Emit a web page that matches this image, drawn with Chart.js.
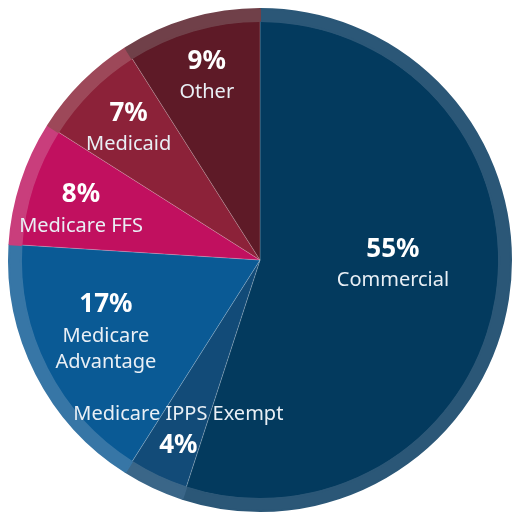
<!DOCTYPE html>
<html>
<head>
<meta charset="utf-8">
<script src="https://cdn.jsdelivr.net/npm/chart.js@4/dist/chart.umd.min.js"></script>
<style>
  html, body { margin: 0; padding: 0; background: #ffffff; }
  #wrap { width: 515px; height: 518px; }
</style>
</head>
<body>
<div id="wrap"><canvas id="payer"></canvas></div>
<script>
// payer mix, clockwise from 12 o'clock
const categories = ['Commercial', 'Medicare IPPS Exempt', 'Medicare Advantage', 'Medicare FFS', 'Medicaid', 'Other']
const shares = [55, 4, 17, 8, 7, 9]
const nameLines = [['Commercial'], ['Medicare IPPS Exempt'], ['Medicare', 'Advantage'], ['Medicare FFS'], ['Medicaid'], ['Other']]

const coreColors = ['#033a5e', '#124b78', '#0a5a95', '#c1105f', '#8c2239', '#5e1a27']
const rimColors = ['#2b5777', '#3a6688', '#3776a6', '#c93e7c', '#9d4859', '#704049']

// where each label block sits: fraction of radius, angle shift (deg) from slice middle, percent under name?
const labelPos = [
    { r: 0.53, shift: -7, pctBelow: false },
    { r: 0.75, shift: 0.5, pctBelow: true },
    { r: 0.68, shift: 1.5, pctBelow: false },
    { r: 0.74, shift: -2.5, pctBelow: false },
    { r: 0.74, shift: 0, pctBelow: false },
    { r: 0.76, shift: 0, pctBelow: false },
]

const FONT = '"Noto Sans", "Open Sans", sans-serif'

const sliceLabels = {
    id: 'sliceLabels',
    afterDatasetsDraw(chart) {
        const ctx = chart.ctx
        const arcs = chart.getDatasetMeta(1).data
        const R = chart.getDatasetMeta(0).data[0].outerRadius
        ctx.save()
        ctx.textAlign = 'center'
        ctx.textBaseline = 'middle'
        arcs.forEach((arc, i) => {
            const p = labelPos[i]
            const mid = (arc.startAngle + arc.endAngle) / 2 + p.shift * Math.PI / 180
            const cx = arc.x + Math.cos(mid) * R * p.r
            const cy = arc.y + Math.sin(mid) * R * p.r
            const pct = { text: shares[i] + '%', font: 'bold 26px ' + FONT, color: '#ffffff' }
            const names = nameLines[i].map(t => ({ text: t, font: '20px ' + FONT, color: '#e9eff5' }))
            const lines = p.pctBelow ? names.concat([pct]) : [pct].concat(names)
            // gaps between line centres
            const gaps = []
            for (let k = 1; k < lines.length; k++) {
                const mixed = (lines[k].font !== lines[k - 1].font)
                gaps.push(mixed ? 31 : 26)
            }
            const total = gaps.reduce((a, b) => a + b, 0)
            let y = cy - total / 2
            lines.forEach((ln, k) => {
                ctx.font = ln.font
                ctx.fillStyle = ln.color
                ctx.fillText(ln.text, cx, y)
                y += gaps[k] || 0
            })
        })
        ctx.restore()
    }
}

const options = {
    type: 'pie',
    data: {
        labels: categories,
        datasets: [
            {
                // light outer rim
                data: shares,
                backgroundColor: rimColors,
                borderColor: rimColors,
                borderWidth: 2,
                weight: 1
            },
            {
                data: shares,
                backgroundColor: coreColors,
                borderColor: 'rgba(255,255,255,0.18)',
                borderWidth: 1,
                weight: 20
            }
        ]
    },
    options: {
        responsive: true,
        maintainAspectRatio: false,
        animation: false,
        rotation: 0,
        layout: { padding: { left: 8, right: 3, top: 8, bottom: 6 } },
        plugins: {
            legend: { display: false },
            tooltip: { enabled: false },
            title: { display: false }
        }
    },
    plugins: [sliceLabels]
}

const ctx = document.getElementById('payer').getContext('2d')
const chart = new Chart(ctx, options)
</script>
</body>
</html>
